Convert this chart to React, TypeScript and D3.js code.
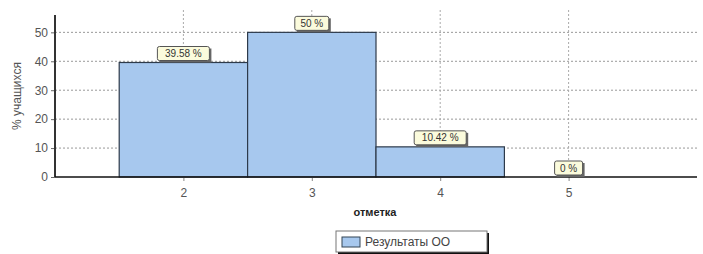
import React, { useEffect, useRef } from 'react';
import * as d3 from 'd3';

const marks = [2, 3, 4, 5];
const percents = [39.58, 50, 10.42, 0];
const pctLabels = ['39.58 %', '50 %', '10.42 %', '0 %'];
const yTicks = [0, 10, 20, 30, 40, 50];
const seriesName = 'Результаты ОО';

const App = () => {
  const svgRef = useRef<SVGSVGElement>(null);

  useEffect(() => {
    const svg = d3.select(svgRef.current);
    svg.selectAll('*').remove();

    const left = 55, right = 697, top = 15, bottom = 177;
    const font = 'Liberation Sans, Arial, sans-serif';

    const xScale = d3.scaleLinear().domain([1, 6]).range([left, right]);
    const yScale = d3.scaleLinear().domain([0, 56]).range([bottom, top]);

    // horizontal grid
    svg.append('g')
      .selectAll('line')
      .data(yTicks.filter((t) => t > 0))
      .enter()
      .append('line')
      .attr('x1', left).attr('x2', right)
      .attr('y1', (d) => yScale(d)).attr('y2', (d) => yScale(d))
      .attr('stroke', '#999').attr('stroke-dasharray', '2,2');

    // vertical grid
    svg.append('g')
      .selectAll('line')
      .data(marks)
      .enter()
      .append('line')
      .attr('x1', (d) => xScale(d)).attr('x2', (d) => xScale(d))
      .attr('y1', top - 5).attr('y2', bottom)
      .attr('stroke', '#aaa').attr('stroke-dasharray', '2,2');

    // bars
    svg.append('g')
      .selectAll('rect')
      .data(marks)
      .enter()
      .append('rect')
      .attr('x', (d) => xScale(d - 0.5))
      .attr('width', (d) => xScale(d + 0.5) - xScale(d - 0.5))
      .attr('y', (d, i) => yScale(percents[i]))
      .attr('height', (d, i) => bottom - yScale(percents[i]))
      .attr('fill', '#a7c8ee')
      .attr('stroke', '#2d3a4a')
      .attr('stroke-width', 1.2);

    // y axis
    const yAxis = svg.append('g')
      .attr('transform', `translate(${left},0)`)
      .call(d3.axisLeft(yScale).tickValues(yTicks).tickSize(4).tickFormat(d3.format('d')));
    yAxis.select('.domain').remove();
    yAxis.selectAll('line').attr('stroke', '#666');
    yAxis.selectAll('text').attr('fill', '#555').style('font-family', font).style('font-size', '12px');
    svg.append('line')
      .attr('x1', left).attr('x2', left).attr('y1', top).attr('y2', bottom)
      .attr('stroke', '#333').attr('stroke-width', 2);

    // x axis
    const xAxis = svg.append('g')
      .attr('transform', `translate(0,${bottom})`)
      .call(d3.axisBottom(xScale).tickValues(marks).tickSize(4).tickFormat(d3.format('d')));
    xAxis.select('.domain').remove();
    xAxis.selectAll('line').attr('stroke', '#888');
    xAxis.selectAll('text').attr('fill', '#555').attr('dy', '1.1em').style('font-family', font).style('font-size', '12px');
    svg.append('line')
      .attr('x1', left).attr('x2', right).attr('y1', bottom).attr('y2', bottom)
      .attr('stroke', '#111').attr('stroke-width', 1.5);

    // axis titles
    svg.append('text')
      .attr('transform', `translate(21,${(top + bottom) / 2}) rotate(-90)`)
      .attr('text-anchor', 'middle')
      .attr('fill', '#555')
      .style('font-family', font).style('font-size', '12px')
      .text('% учащихся');
    svg.append('text')
      .attr('x', 375).attr('y', 216)
      .attr('text-anchor', 'middle')
      .attr('fill', '#222')
      .style('font-family', font).style('font-size', '11px').style('font-weight', 'bold')
      .text('отметка');

    // value labels
    const lbl = svg.append('g')
      .selectAll('g')
      .data(marks)
      .enter()
      .append('g')
      .attr('transform', (d, i) => `translate(${xScale(d)},${yScale(percents[i]) - 9})`);
    lbl.each(function (d, i) {
      const g = d3.select(this);
      const w = pctLabels[i].length * 6 + 10;
      g.append('rect').attr('x', -w / 2 + 2).attr('y', -5).attr('width', w).attr('height', 14).attr('fill', '#666');
      g.append('rect').attr('x', -w / 2).attr('y', -7).attr('width', w).attr('height', 14)
        .attr('fill', '#fbfbdc').attr('stroke', '#555').attr('rx', 2);
      g.append('text').attr('text-anchor', 'middle').attr('y', 3.5)
        .attr('fill', '#333').style('font-family', font).style('font-size', '10px')
        .text(pctLabels[i]);
    });

    // legend
    const lg = svg.append('g').attr('transform', 'translate(336,231)');
    lg.append('rect').attr('x', 2).attr('y', 2).attr('width', 151).attr('height', 21).attr('fill', '#111');
    lg.append('rect').attr('x', 0).attr('y', 0).attr('width', 151).attr('height', 21).attr('fill', '#fff').attr('stroke', '#777');
    lg.append('rect').attr('x', 6).attr('y', 6).attr('width', 18).attr('height', 10).attr('fill', '#a7c8ee').attr('stroke', '#345');
    lg.append('text').attr('x', 29).attr('y', 15).attr('fill', '#444')
      .style('font-family', font).style('font-size', '12px').text(seriesName);
  }, []);

  return (
    <svg ref={svgRef} width={703} height={254} style={{ position: 'absolute', left: 0, top: 0 }}></svg>
  );
};

export default App;
